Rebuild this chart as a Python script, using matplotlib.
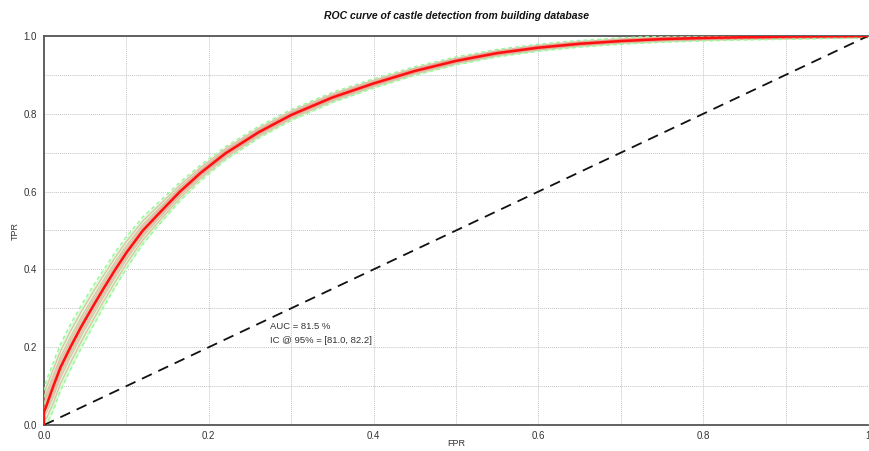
import matplotlib
matplotlib.use("Agg")
import matplotlib.pyplot as plt
import numpy as np

plt.rcParams["font.family"] = ["Liberation Sans", "DejaVu Sans"]

# ── ROC data ──
fpr = [0.0, 0.0, 0.003, 0.011, 0.02, 0.032, 0.045, 0.058, 0.072, 0.086, 0.10,
       0.12, 0.14, 0.165, 0.19, 0.22, 0.26, 0.30, 0.35, 0.40, 0.45,
       0.50, 0.55, 0.60, 0.65, 0.70, 0.75, 0.80, 0.85, 0.90, 0.95, 1.0]
tpr = [0.0, 0.033, 0.050, 0.098, 0.148, 0.200, 0.252, 0.300, 0.350, 0.398, 0.443,
       0.500, 0.545, 0.600, 0.648, 0.698, 0.752, 0.797, 0.842, 0.878, 0.910,
       0.936, 0.956, 0.970, 0.980, 0.987, 0.992, 0.995, 0.997, 0.9985, 0.9995, 1.0]
tpr_upper = [0.0, 0.093, 0.115, 0.160, 0.208, 0.258, 0.307, 0.352, 0.398, 0.443, 0.484,
             0.535, 0.574, 0.624, 0.668, 0.715, 0.767, 0.811, 0.855, 0.890, 0.921,
             0.946, 0.9655, 0.979, 0.9885, 0.995, 1.0, 1.0, 1.0, 1.0, 1.0, 1.0]
tpr_lower = [0.0, 0.0, 0.0, 0.036, 0.088, 0.142, 0.197, 0.248, 0.302, 0.353, 0.402,
             0.465, 0.516, 0.576, 0.628, 0.681, 0.737, 0.783, 0.829, 0.866, 0.899,
             0.926, 0.9465, 0.961, 0.9715, 0.979, 0.984, 0.9875, 0.990, 0.9915, 0.9935, 0.995]
# position of the bootstrap curves inside the band (0 = lower, 1 = upper)
boot_pos = [0.15, 0.28, 0.36, 0.43, 0.50, 0.57, 0.64, 0.72, 0.85]

auc_txt = "AUC = 81.5 %"
ic_txt = "IC @ 95% = [81.0, 82.2]"

xticks = [0.0, 0.2, 0.4, 0.6, 0.8, 1.0]
xtick_labels = ["0.0", "0.2", "0.4", "0.6", "0.8", "1"]
yticks = [0.0, 0.2, 0.4, 0.6, 0.8, 1.0]
ytick_labels = ["0.0", "0.2", "0.4", "0.6", "0.8", "1.0"]

fig = plt.figure(figsize=(8.7, 4.51), dpi=100)
ax = fig.add_axes([44 / 870, 26 / 451, 824 / 870, 389 / 451])

lo = np.array(tpr_lower)
hi = np.array(tpr_upper)

# confidence band (bootstrap curves + 95% bounds)
ax.fill_between(fpr, lo, hi, color="#d6ffd6", lw=0, zorder=2)
for b in boot_pos:
    ax.plot(fpr, lo + b * (hi - lo), color="#ee7070", lw=0.9, alpha=0.45, zorder=3)
ax.plot(fpr, hi, color="#9ef59e", lw=1.1, ls=(0, (2.5, 2)), zorder=3)
ax.plot(fpr, lo, color="#9ef59e", lw=1.1, ls=(0, (2.5, 2)), zorder=3)

# main curve + chance line
ax.plot(fpr, tpr, color="#ff1010", lw=1.8, zorder=5, solid_capstyle="round")
ax.plot([0, 1], [0, 1], color="#111111", lw=1.3, ls=(0, (6, 4)), zorder=4)

ax.text(0.274, 0.254, auc_txt, fontsize=6.8, color="#333333", va="center")
ax.text(0.274, 0.216, ic_txt, fontsize=6.8, color="#333333", va="center")

ax.set_xlim(0, 1)
ax.set_ylim(0, 1)
ax.set_xticks(xticks)
ax.set_xticklabels(xtick_labels)
ax.set_yticks(yticks)
ax.set_yticklabels(ytick_labels)
ax.set_xticks(np.arange(0.1, 1.0, 0.2), minor=True)
ax.set_yticks(np.arange(0.1, 1.0, 0.2), minor=True)
ax.tick_params(which="both", length=0, labelsize=7, colors="#333333")
ax.tick_params(axis="x", pad=4)
ax.tick_params(axis="y", pad=5)
ax.grid(which="both", color="#c4c4c4", lw=0.7, ls=(0, (1, 1)), zorder=0)

for side in ["left", "bottom", "top"]:
    ax.spines[side].set_color("#555555")
    ax.spines[side].set_linewidth(1.3)
ax.spines["right"].set_visible(False)

ax.set_xlabel("FPR", fontsize=6.5, color="#333333", labelpad=-1)
ax.set_ylabel("TPR", fontsize=6.5, color="#333333", labelpad=3)
ax.set_title("ROC curve of castle detection from building database",
             fontsize=7.5, style="italic", weight="bold", color="#111111", pad=12)

fig.savefig("out.png", dpi=100)
